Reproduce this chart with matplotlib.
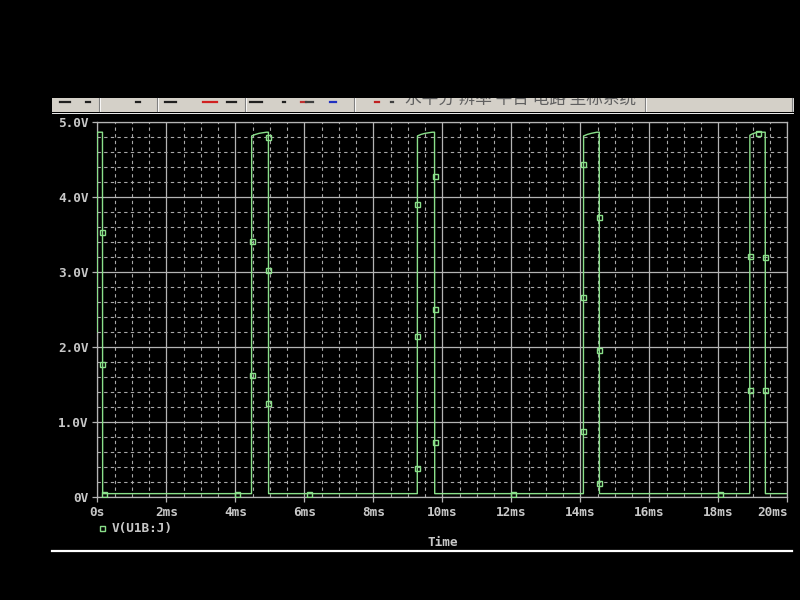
import matplotlib.pyplot as plt
import numpy as np
from matplotlib.lines import Line2D
from matplotlib.patches import Rectangle

# trace V(U1B:J): time in ms, voltage in V
t_ms = [0.0, 0.003, 0.15, 0.155,
        4.47, 4.475, 4.58, 4.69, 4.90, 4.96, 4.965,
        9.275, 9.28, 9.38, 9.50, 9.71, 9.775, 9.78,
        14.09, 14.095, 14.20, 14.32, 14.48, 14.55, 14.555,
        18.91, 18.915, 19.00, 19.13, 19.36, 19.365, 20.0]
volts = [2.2, 4.86, 4.86, 0.045,
         0.045, 4.81, 4.83, 4.845, 4.86, 4.86, 0.045,
         0.045, 4.81, 4.83, 4.845, 4.86, 4.86, 0.045,
         0.045, 4.81, 4.83, 4.845, 4.86, 4.86, 0.045,
         0.045, 4.82, 4.84, 4.86, 4.86, 0.045, 0.045]

# symbol markers that PSpice puts on the trace
mark_t = [0.145, 0.15, 0.2, 4.06, 4.47, 4.47, 4.96, 4.96, 4.96, 6.14,
          9.275, 9.275, 9.275, 9.775, 9.775, 9.775, 12.06,
          14.09, 14.09, 14.09, 14.55, 14.55, 14.55, 18.06,
          18.91, 18.91, 19.16, 19.36, 19.36]
mark_v = [3.53, 1.77, 0.045, 0.045, 1.62, 3.41, 4.80, 3.02, 1.25, 0.045,
          0.38, 2.15, 3.91, 4.27, 2.50, 0.73, 0.045,
          0.885, 2.66, 4.43, 3.73, 1.96, 0.18, 0.045,
          1.43, 3.21, 4.85, 3.20, 1.42]

x_ticks = [0, 2, 4, 6, 8, 10, 12, 14, 16, 18, 20]
x_labels = ['0s', '2ms', '4ms', '6ms', '8ms', '10ms', '12ms', '14ms', '16ms', '18ms', '20ms']
y_ticks = [0, 1, 2, 3, 4, 5]
y_labels = ['0V', '1.0V', '2.0V', '3.0V', '4.0V', '5.0V']

W, H = 800, 600
def fx(px):
    return px / W
def fy(py):
    return 1 - py / H

trace_col = '#8ae08a'
txt_col = '#c8c8c8'
grid_col = '#b4b4b4'
mono = 'DejaVu Sans Mono'

fig = plt.figure(figsize=(8, 6), dpi=100, facecolor='black')

# toolbar strip at the top (partly cut off window)
bar = Rectangle((fx(52), fy(112)), fx(793) - fx(52), fy(98) - fy(112),
                transform=fig.transFigure, facecolor='#d4d0c8', edgecolor='none')
fig.add_artist(bar)
fig.add_artist(Line2D([fx(52), fx(793)], [fy(112.5)] * 2, color='#f0f0f0', lw=0.7))
for sx in [99, 157, 245, 354, 645, 792]:
    fig.add_artist(Line2D([fx(sx), fx(sx)], [fy(111), fy(98)], color='#808080', lw=0.8))
    fig.add_artist(Line2D([fx(sx + 1), fx(sx + 1)], [fy(111), fy(98)], color='#ffffff', lw=0.6))
icons = [(60, 70, '#202020'), (86, 90, '#202020'), (136, 140, '#202020'),
         (165, 176, '#202020'), (203, 217, '#d02020'), (227, 236, '#202020'),
         (250, 262, '#202020'), (283, 285, '#202020'), (301, 306, '#c03030'),
         (306, 313, '#404040'), (330, 336, '#2030c0'), (375, 379, '#c02020'),
         (391, 393, '#404040')]
for x0, x1, c in icons:
    fig.add_artist(Line2D([fx(x0), fx(x1)], [fy(101.5)] * 2, color=c, lw=1.6))
cn = fig.text(fx(405), fy(99), '水平分 辨率 平台 电路 坐标系统',
              family=['Noto Sans CJK SC', 'DejaVu Sans'], fontsize=12,
              color='#606060', va='center', ha='left')
cn.set_clip_path(bar)

ax = fig.add_axes([fx(97.3), fy(497), fx(787.3) - fx(97.3), fy(121.7) - fy(497)])
ax.set_facecolor('black')

ax.plot(t_ms, volts, color=trace_col, lw=1.0, zorder=3)
ax.plot(mark_t, mark_v, ls='none', marker='s', ms=3.6, mfc='none',
        mec=trace_col, mew=1.0, zorder=4)

ax.set_xlim(0, 20)
ax.set_ylim(0, 5)
ax.set_xticks(x_ticks)
ax.set_xticklabels(x_labels)
ax.set_yticks(y_ticks)
ax.set_yticklabels(y_labels)
ax.set_xticks(np.arange(0, 20.01, 0.5), minor=True)
ax.set_yticks(np.arange(0, 5.01, 0.2), minor=True)

ax.grid(True, which='major', color=grid_col, lw=0.9, ls='-', zorder=1)
ax.grid(True, which='minor', color='#a8a8a8', lw=0.8, ls=(0, (3, 3)), zorder=0)
ax.set_axisbelow(True)

for s in ax.spines.values():
    s.set_color(grid_col)
    s.set_linewidth(0.9)

ax.tick_params(which='major', direction='out', length=3.8, width=0.9, color=grid_col,
               labelcolor=txt_col, labelsize=9.2)
ax.tick_params(which='minor', length=0)
ax.tick_params(axis='x', pad=3)
ax.tick_params(axis='y', pad=2.5)
for lab in ax.get_xticklabels() + ax.get_yticklabels():
    lab.set_family(mono)
    lab.set_weight('bold')
ax.get_xticklabels()[-1].set_ha('right')

# legend entry and axis title
fig.add_artist(Line2D([fx(102.3)], [fy(528.3)], ls='none', marker='s', ms=3.6,
                      mfc='none', mec=trace_col, mew=1.0))
fig.text(fx(112), fy(528.3), 'V(U1B:J)', color=txt_col, family=mono,
         weight='bold', fontsize=9.2, va='center', ha='left')
fig.text(fx(442.7), fy(542.3), 'Time', color=txt_col, family=mono,
         weight='bold', fontsize=9.2, va='center', ha='center')

fig.add_artist(Line2D([fx(52), fx(792)], [fy(550.7)] * 2, color='white', lw=1.6))

fig.savefig('out.png', dpi=100, facecolor='black')
